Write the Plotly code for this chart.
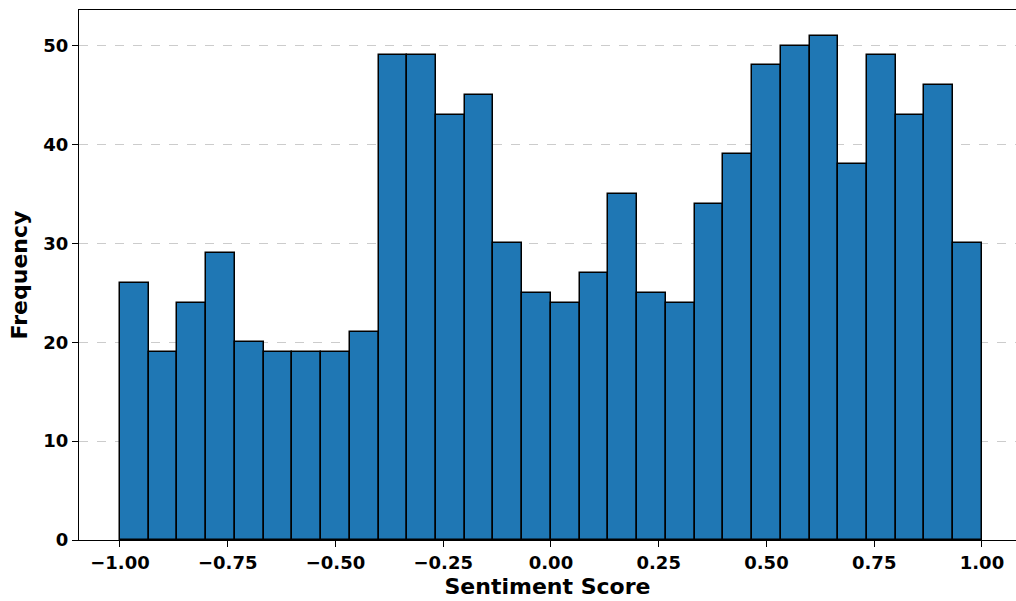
import numpy as np
import plotly.graph_objects as go

# Histogram of sentiment scores: 30 equal-width bins over [-1, 1]
bin_start = -1.0
bin_end = 1.0
n_bins = 30
counts = [26, 19, 24, 29, 20, 19, 19, 19, 21, 49,
          49, 43, 45, 30, 25, 24, 27, 35, 25, 24,
          34, 39, 48, 50, 51, 38, 49, 43, 46, 30]
x_ticks = [-1.0, -0.75, -0.5, -0.25, 0.0, 0.25, 0.5, 0.75, 1.0]
y_ticks = [0, 10, 20, 30, 40, 50]

edges = np.linspace(bin_start, bin_end, n_bins + 1)
centers = (edges[:-1] + edges[1:]) / 2
width = edges[1] - edges[0]

font_family = "DejaVu Sans"

fig = go.Figure(
    go.Bar(
        x=centers,
        y=counts,
        width=width,
        marker=dict(color="#1f77b4", line=dict(color="#000000", width=1.5)),
        hoverinfo="x+y",
    )
)

fig.update_layout(
    width=1016,
    height=601,
    margin=dict(l=79, r=0, t=10, b=61),
    plot_bgcolor="white",
    paper_bgcolor="white",
    showlegend=False,
    bargap=0,
    font=dict(family=font_family, color="black"),
)

fig.update_xaxes(
    range=[-1.095, 1.079],
    tickvals=x_ticks,
    tickformat=".2f",
    ticks="outside",
    ticklen=6,
    tickwidth=1.2,
    tickcolor="black",
    tickfont=dict(family=font_family, size=18, color="black", weight="bold"),
    showline=True,
    linecolor="black",
    linewidth=1.3,
    mirror=True,
    showgrid=False,
    zeroline=False,
    title=dict(text="Sentiment Score",
               font=dict(family=font_family, size=22, color="black", weight="bold"),
               standoff=6),
)

fig.update_yaxes(
    range=[0, 53.6],
    tickvals=y_ticks,
    ticks="outside",
    ticklen=6,
    tickwidth=1.2,
    tickcolor="black",
    tickfont=dict(family=font_family, size=18, color="black", weight="bold"),
    showline=True,
    linecolor="black",
    linewidth=1.3,
    showgrid=True,
    gridcolor="#cccccc",
    griddash="dash",
    gridwidth=1,
    zeroline=False,
    title=dict(text="Frequency",
               font=dict(family=font_family, size=22, color="black", weight="bold"),
               standoff=9),
)

fig.write_html("out.html")
